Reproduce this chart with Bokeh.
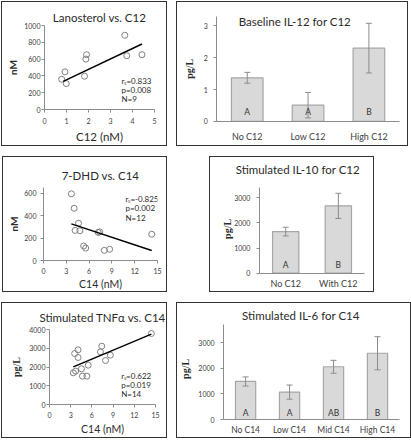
import math
from bokeh.plotting import figure
from bokeh.layouts import row, column
from bokeh.models import (Range1d, Label, LabelSet, Whisker, TeeHead, Title,
                          ColumnDataSource, FixedTicker)
from bokeh.core.properties import value
from bokeh.embed import file_html
from bokeh.resources import INLINE

# ---------------- data ----------------
lano_title = "Lanosterol vs. C12"
lano_c12 = [0.78, 0.93, 0.99, 1.82, 1.88, 1.91, 3.65, 3.74, 4.43]
lano_nm = [360, 448, 308, 396, 600, 652, 884, 640, 652]
lano_fit_x = [0.85, 4.43]
lano_fit_y = [335, 780]
lano_stats = ["rₛ=0.833", "p=0.008", "N=9"]
lano_xticks = [0, 1, 2, 3, 4, 5]
lano_yticks = [0, 200, 400, 600, 800, 1000]

dhd_title = "7-DHD vs. C14"
dhd_c14 = [3.67, 4.03, 4.16, 4.61, 4.79, 5.28, 5.55, 7.2, 7.39, 8.0, 8.7, 14.24]
dhd_nm = [594, 465, 268, 332, 265, 129, 111, 250, 255, 90, 100, 234]
dhd_fit_x = [3.67, 14.24]
dhd_fit_y = [326, 89]
dhd_stats = ["rₛ=-0.825", "p=0.002", "N=12"]
dhd_xticks = [0, 3, 6, 9, 12, 15]
dhd_yticks = [0, 200, 400, 600]

tnf_title = "Stimulated TNFα vs. C14"
tnf_c14 = [3.37, 3.70, 3.56, 4.04, 4.04, 4.52, 4.66, 5.29, 5.48, 7.21, 7.40, 7.93, 8.61, 14.42]
tnf_pg = [1690, 1778, 2720, 2916, 2507, 1902, 1511, 1511, 2098, 2809, 3111, 2347, 2631, 3787]
tnf_fit_x = [3.37, 14.42]
tnf_fit_y = [2009, 3751]
tnf_stats = ["rₛ=0.622", "p=0.019", "N=14"]
tnf_xticks = [0, 3, 6, 9, 12, 15]
tnf_yticks = [0, 1000, 2000, 3000, 4000]

il12_title = "Baseline IL-12 for C12"
il12_groups = ["No C12", "Low C12", "High C12"]
il12_mean = [1.37, 0.51, 2.30]
il12_err = [0.17, 0.40, 0.78]
il12_letters = ["A", "A", "B"]
il12_yticks = [0, 1, 2, 3]

il10_title = "Stimulated IL-10 for C12"
il10_groups = ["No C12", "With C12"]
il10_mean = [1653, 2675]
il10_err = [173, 500]
il10_letters = ["A", "B"]
il10_yticks = [0, 1000, 2000, 3000]

il6_title = "Stimulated IL-6 for C14"
il6_groups = ["No C14", "Low C14", "Mid C14", "High C14"]
il6_mean = [1488, 1071, 2062, 2591]
il6_err = [178, 277, 252, 647]
il6_letters = ["A", "A", "AB", "B"]
il6_yticks = [0, 1000, 2000, 3000]

# ---------------- style ----------------
FONT = "Lato"
SERIF = "Liberation Serif"
AXIS_COL = "#8c8c8c"
TICK_TXT = "#404040"
TITLE_COL = "#2b2b2b"
BORDER = {"border": "1px solid #333333", "box-sizing": "content-box"}


def make_fig(w, h, xr, yr, l, r, t, b, margin):
    p = figure(width=w, height=h, x_range=xr, y_range=yr, title=None,
               min_border_left=l, min_border_right=r, min_border_top=t, min_border_bottom=b,
               output_backend="svg", toolbar_location=None, margin=margin, styles=BORDER)
    p.frame_align = False
    p.outline_line_color = None
    p.xgrid.visible = False
    p.ygrid.visible = False
    p.background_fill_color = "white"
    p.border_fill_color = "white"
    return p


def style_axis(ax, ticks, tick_out, standoff, size="7px", bounds=None):
    ax.axis_line_color = AXIS_COL
    ax.axis_line_width = 1
    ax.major_tick_line_color = AXIS_COL if tick_out > 0 else None
    ax.major_tick_in = 0
    ax.major_tick_out = tick_out
    ax.minor_tick_line_color = None
    ax.major_label_standoff = standoff
    ax.major_label_text_font = FONT
    ax.major_label_text_font_size = size
    ax.major_label_text_color = TICK_TXT
    if ticks is not None:
        ax.ticker = FixedTicker(ticks=ticks)
    if bounds is not None:
        ax.bounds = bounds


def lab(p, dx, dy, text, size, x=0, y=0, color=TITLE_COL, align="center",
        font=FONT, angle=0.0, style="normal"):
    p.add_layout(Label(x=x, y=y, x_offset=dx, y_offset=dy, text=text,
                       text_font=font, text_font_size=size, text_color=color,
                       text_align=align, text_baseline="middle", angle=angle,
                       text_font_style=style))


def side_title(p, side, text, size, offset, standoff, font=FONT, style="normal"):
    t = Title(text=text, align="center", offset=offset, standoff=standoff,
              text_font=font, text_font_size=size, text_font_style=style,
              text_color=TITLE_COL,
              vertical_align="top" if side == "below" else "bottom")
    p.add_layout(t, side)


def scatter_panel(p, xs, ys, fx, fy):
    p.scatter(xs, ys, marker="circle", size=6, fill_color=None,
              line_color="#808080", line_width=1)
    p.line(fx, fy, line_color="black", line_width=1.5)


def bar_fig(groups, means, errs, letters, yticks, ytop, title, geo, width,
            letter_dy, x_standoff, title_d, ylab_d, margin, cat_size="9px"):
    # geo: canvas w, h, axis x in canvas px, px per category, zero y in canvas px, px per unit
    cw, ch, ax_px, cat_px, zero_py, unit_px = geo
    n = len(groups)
    xr = Range1d(-0.5 - ax_px / cat_px, -0.5 + (cw - ax_px) / cat_px)
    yr = Range1d(-(ch - zero_py) / unit_px, zero_py / unit_px)
    p = make_fig(cw, ch, xr, yr, 0, 0, 0, 0, margin)
    pos = list(range(n))
    src = ColumnDataSource(dict(
        x=pos, top=means, letters=letters,
        upper=[m + e for m, e in zip(means, errs)],
        lower=[m - e for m, e in zip(means, errs)]))
    p.vbar(x="x", top="top", width=width, source=src, fill_color="#d9d9d9",
           line_color="#a6a6a6", line_width=1.2)
    wh = Whisker(base="x", upper="upper", lower="lower", source=src,
                 line_color="#8c8c8c", line_width=1,
                 upper_head=TeeHead(size=6, line_color="#8c8c8c", line_width=1),
                 lower_head=TeeHead(size=6, line_color="#8c8c8c", line_width=1))
    wh.level = "annotation"
    p.add_layout(wh)
    ls = LabelSet(x="x", y=0, text="letters", source=src, y_offset=letter_dy,
                  text_font=value(FONT), text_font_size=value("8.5px"),
                  text_color=value("#333333"),
                  text_align=value("center"), text_baseline=value("middle"))
    p.add_layout(ls)
    xa = p.xaxis[0]
    style_axis(xa, pos, 0, x_standoff, cat_size, bounds=(-0.5, n - 0.5))
    xa.major_label_overrides = {i: g for i, g in zip(pos, groups)}
    xa.fixed_location = 0
    ya = p.yaxis[0]
    style_axis(ya, yticks, 3, 6, bounds=(0, ytop))
    ya.fixed_location = -0.5
    lab(p, title_d[0], title_d[1], title, "11.5px", x=-0.5)
    lab(p, ylab_d[0], ylab_d[1], "pg/L", "10px", x=-0.5, font=SERIF,
        angle=math.pi / 2, style="bold")
    return p


# ---- Panel 1: Lanosterol vs C12 ----
p1 = make_fig(164, 143, Range1d(0, 5), Range1d(0, 1000), 42, 14, 23, 37, (0, 0, 0, 0))
style_axis(p1.xaxis[0], lano_xticks, 3, 5)
style_axis(p1.yaxis[0], lano_yticks, 3, 1)
scatter_panel(p1, lano_c12, lano_nm, lano_fit_x, lano_fit_y)
side_title(p1, "above", lano_title, "11.5px", -2, 4)
side_title(p1, "below", "C12 (nM)", "11.5px", -22, 6)
side_title(p1, "left", "nM", "10px", -22, 5, style="bold")
for i, s in enumerate(lano_stats):
    lab(p1, 77, 29 - 9.3 * i, s, "8px", align="left")

# ---- Panel 2: Baseline IL-12 ----
p2 = bar_fig(il12_groups, il12_mean, il12_err, il12_letters, il12_yticks, 3.3, il12_title,
             (230, 143, 39, 60.3, 117.3, 31.43), 0.52, 9, 10, (78, 100), (-27.7, 52.6),
             (0, 0, 0, 9))

# ---- Panel 3: 7-DHD vs C14 ----
p3 = make_fig(163, 134, Range1d(0, 15), Range1d(0, 650), 40, 11, 30, 33, (0, 0, 0, 1))
style_axis(p3.xaxis[0], dhd_xticks, 3, 4)
style_axis(p3.yaxis[0], dhd_yticks, 3, 4)
scatter_panel(p3, dhd_c14, dhd_nm, dhd_fit_x, dhd_fit_y)
side_title(p3, "above", dhd_title, "11.5px", -6.5, 11)
side_title(p3, "below", "C14 (nM)", "10.5px", -17, 3)
side_title(p3, "left", "nM", "10px", -3.5, 4, style="bold")
for i, s in enumerate(dhd_stats):
    lab(p3, 82, 61.3 - 9.2 * i, s, "8px", align="left")

# ---- Panel 4: Stimulated IL-10 ----
p4 = bar_fig(il10_groups, il10_mean, il10_err, il10_letters, il10_yticks, 3400, il10_title,
             (163, 134, 48.3, 52, 114, 0.0248), 0.5, 8.7, 5, (38.4, 103.3), (-31.6, 44.3),
             (0, 0, 0, 42))

# ---- Panel 5: TNFa vs C14 ----
p5 = make_fig(164, 134, Range1d(0, 15), Range1d(0, 4000), 47, 13, 26, 33, (0, 0, 0, 0))
style_axis(p5.xaxis[0], tnf_xticks, 3, 4)
style_axis(p5.yaxis[0], tnf_yticks, 3, 1)
scatter_panel(p5, tnf_c14, tnf_pg, tnf_fit_x, tnf_fit_y)
side_title(p5, "above", tnf_title, "11.5px", -1.3, 11)
side_title(p5, "below", "C14 (nM)", "10.5px", -6, 5)
side_title(p5, "left", "pg/L", "10px", -10, 9, font=SERIF, style="bold")
for i, s in enumerate(tnf_stats):
    lab(p5, 71.7, 28.3 - 9 * i, s, "8px", align="left")

# ---- Panel 6: Stimulated IL-6 ----
p6 = bar_fig(il6_groups, il6_mean, il6_err, il6_letters, il6_yticks, 3700, il6_title,
             (233, 134, 45.7, 43.6, 114.3, 0.0252), 0.46, 7, 5, (77.3, 104), (-37.7, 50.6),
             (0, 0, 0, 9), cat_size="8.5px")

layout = column(
    row(p1, p2),
    row(p3, p4, margin=(10, 0, 0, 0)),
    row(p5, p6, margin=(10, 0, 0, 0)),
    margin=(1, 0, 0, 1),
)

open("out.html", "w").write(file_html(layout, INLINE))
